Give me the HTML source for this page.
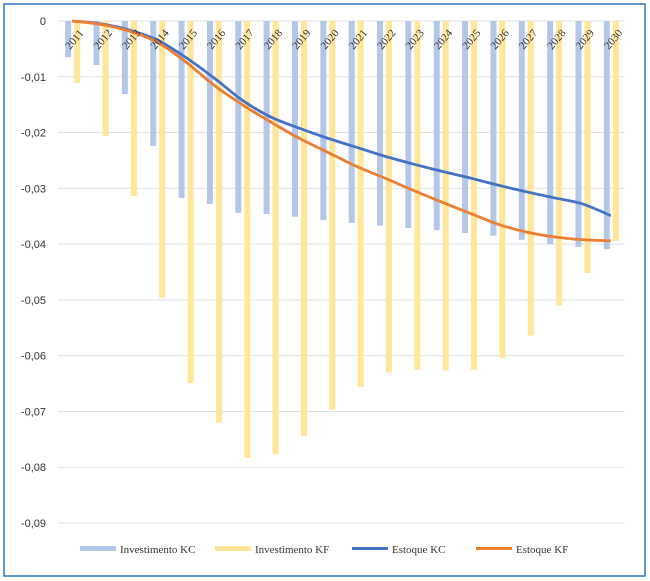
<!DOCTYPE html>
<html><head><meta charset="utf-8"><style>
body{margin:0;background:#fff;}
svg{display:block;font-family:"Liberation Sans",sans-serif;}
</style></head><body>
<svg id="chart" width="650" height="581">
<rect x="4" y="4" width="641" height="572" fill="#fff" stroke="#2e75b6" stroke-width="1.5"/>
<g id="grid"></g>
<g id="yaxis"></g>
<g id="bars"></g>
<g id="lines"></g>
<g id="xaxis"></g>
<g id="legend" font-family="Liberation Serif, serif" font-size="11" fill="#333">
<rect x="80" y="546" width="36" height="5" fill="#b4c7e7"/>
<text x="120" y="553">Investimento KC</text>
<rect x="215" y="546" width="36" height="5" fill="#ffe699"/>
<text x="255" y="553">Investimento KF</text>
<line x1="352" y1="548.5" x2="388" y2="548.5" stroke="#4472c4" stroke-width="3"/>
<text x="392" y="553">Estoque KC</text>
<line x1="476" y1="548.5" x2="512" y2="548.5" stroke="#ed7d31" stroke-width="3"/>
<text x="516" y="553">Estoque KF</text>
</g>
</svg>
<script>
const years=["2011","2012","2013","2014","2015","2016","2017","2018","2019","2020","2021","2022","2023","2024","2025","2026","2027","2028","2029","2030"];
const investKC=[-0.0065,-0.0079,-0.0131,-0.0224,-0.0317,-0.0328,-0.0344,-0.0346,-0.0351,-0.0357,-0.0362,-0.0367,-0.0371,-0.0375,-0.038,-0.0385,-0.0392,-0.04,-0.0405,-0.0409];
const investKF=[-0.0111,-0.0206,-0.0314,-0.0496,-0.0649,-0.072,-0.0783,-0.0777,-0.0744,-0.0697,-0.0656,-0.063,-0.0625,-0.0627,-0.0625,-0.0604,-0.0564,-0.051,-0.0452,-0.0394];
const estoqueKC=[0,-0.0005,-0.0016,-0.0034,-0.0065,-0.0102,-0.0142,-0.0172,-0.0192,-0.021,-0.0226,-0.0242,-0.0256,-0.0269,-0.0281,-0.0294,-0.0306,-0.0317,-0.0328,-0.0349];
const estoqueKF=[0,-0.0006,-0.0018,-0.0038,-0.0073,-0.0115,-0.015,-0.0181,-0.021,-0.0235,-0.026,-0.0281,-0.0303,-0.0324,-0.0344,-0.0364,-0.0378,-0.0387,-0.0392,-0.0394];
const yTicks=[0,-0.01,-0.02,-0.03,-0.04,-0.05,-0.06,-0.07,-0.08,-0.09];
const yTickLabels=["0","-0,01","-0,02","-0,03","-0,04","-0,05","-0,06","-0,07","-0,08","-0,09"];

const NS="http://www.w3.org/2000/svg";
const X0=58,X1=625,Y0=21,Y1=523,VMIN=-0.09;
const cw=(X1-X0)/years.length;
function y(v){return Y0+(v/VMIN)*(Y1-Y0);}
function xc(i){return X0+cw*(i+0.5);}
function mk(tag,attrs,parent){const e=document.createElementNS(NS,tag);for(const k in attrs)e.setAttribute(k,attrs[k]);parent.appendChild(e);return e;}
const grid=document.getElementById('grid'),yaxis=document.getElementById('yaxis'),bars=document.getElementById('bars'),lines=document.getElementById('lines'),xaxis=document.getElementById('xaxis');
yTicks.forEach((t,i)=>{
 const l=mk('line',{x1:X0,x2:X1,y1:y(t),y2:y(t),stroke:'#e3e3e3','stroke-width':1},grid);
 
 
 const tx=mk('text',{x:46,y:y(t)+4,'text-anchor':'end','font-size':11,fill:'#333'},yaxis);
 tx.textContent=yTickLabels[i];
 
 
});
years.forEach((yr,i)=>{
 const b1=mk('rect',{x:xc(i)-7,y:Y0,width:6,height:y(investKC[i])-Y0,fill:'#b4c7e7'},bars);
 
 
 const b2=mk('rect',{x:xc(i)+2,y:Y0,width:6,height:y(investKF[i])-Y0,fill:'#ffe699'},bars);
 
 
});
function smooth(vals){
 const p=vals.map((v,i)=>[xc(i),y(v)]);
 let d='M'+p[0][0]+','+p[0][1];
 for(let i=0;i<p.length-1;i++){
  const a=p[Math.max(0,i-1)],b=p[i],c=p[i+1],e=p[Math.min(p.length-1,i+2)];
  const c1=[b[0]+(c[0]-a[0])/6,b[1]+(c[1]-a[1])/6],c2=[c[0]-(e[0]-b[0])/6,c[1]-(e[1]-b[1])/6];
  d+=' C'+c1[0]+','+c1[1]+' '+c2[0]+','+c2[1]+' '+c[0]+','+c[1];
 }
 return d;
}
const lk=mk('path',{d:smooth(estoqueKC),fill:'none',stroke:'#4472c4','stroke-width':2.8},lines);


const lf=mk('path',{d:smooth(estoqueKF),fill:'none',stroke:'#ed7d31','stroke-width':2.8},lines);


years.forEach((yr,i)=>{
 const x=xc(i)-2,yy=50;
 const t=mk('text',{x:x,y:yy,transform:'rotate(-50 '+x+' '+yy+')','font-size':11,'font-family':'Liberation Serif, serif',fill:'#333'},xaxis);
 t.textContent=yr;
 
 
});
</script>
</body></html>
